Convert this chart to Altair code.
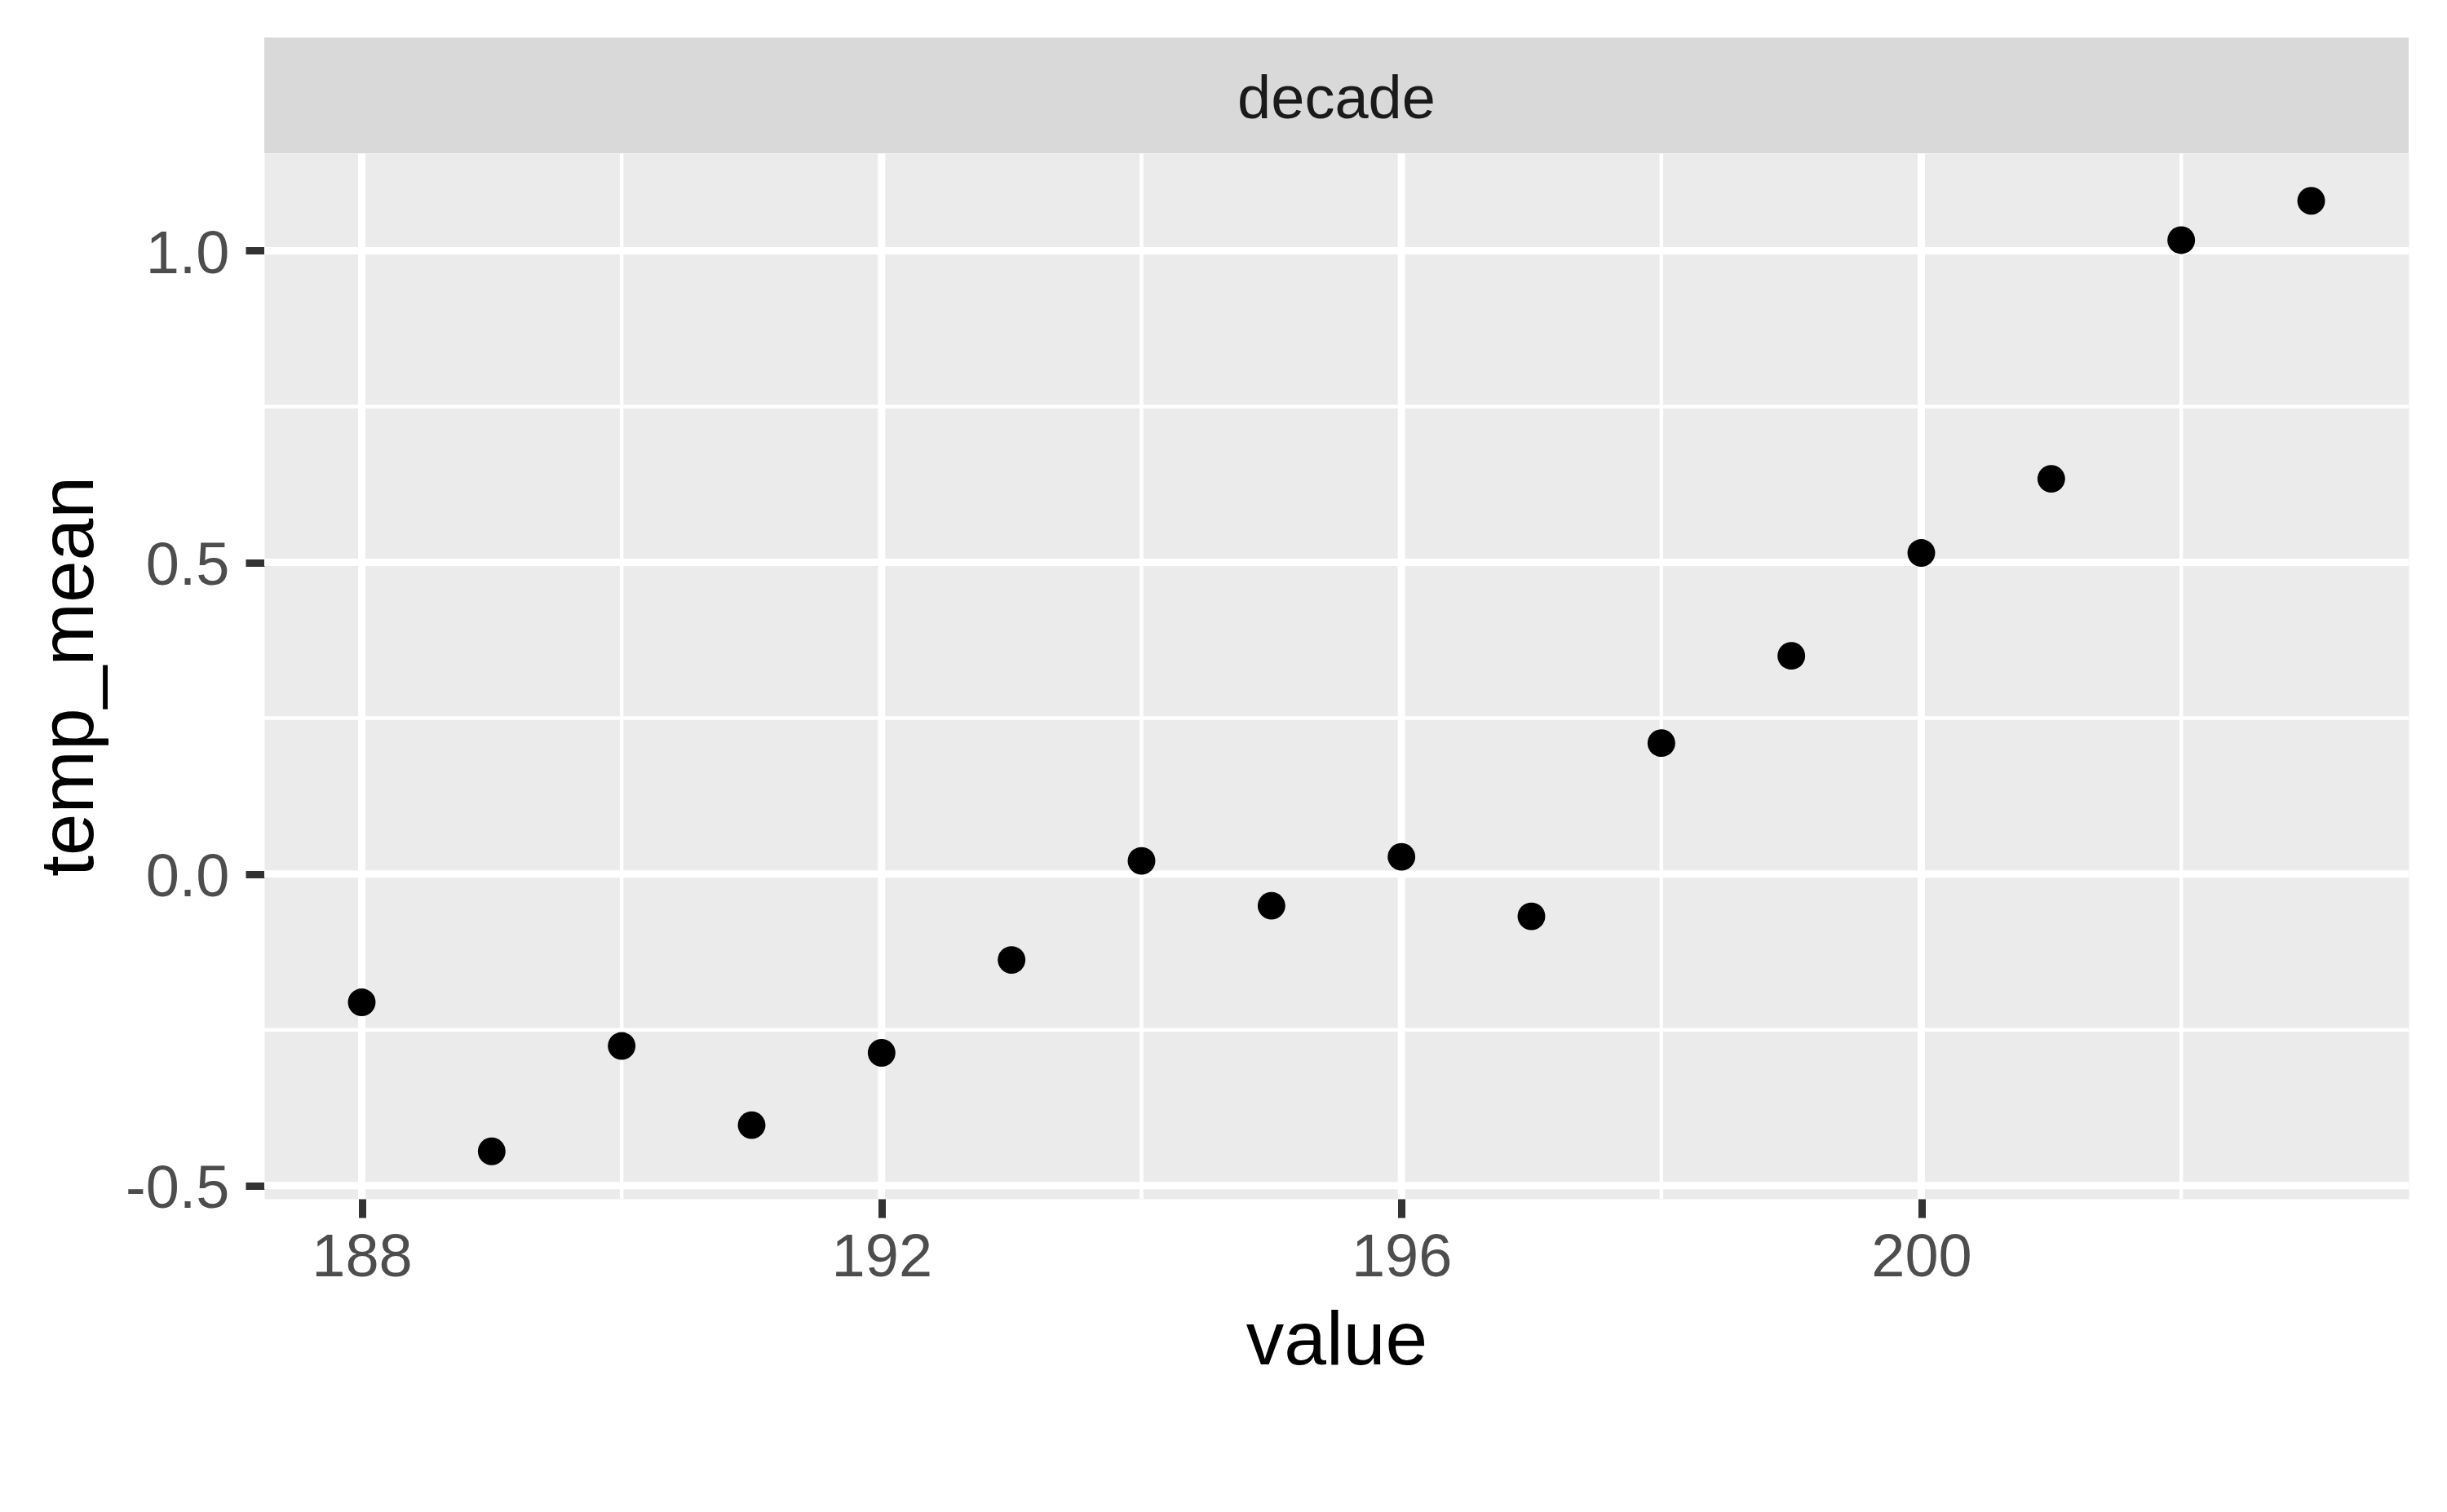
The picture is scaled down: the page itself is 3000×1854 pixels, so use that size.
import altair as alt
import pandas as pd

# ---- data ----
decade = [188, 189, 190, 191, 192, 193, 194, 195, 196, 197, 198, 199, 200, 201, 202, 203]
temp_mean = [-0.206, -0.445, -0.276, -0.403, -0.287, -0.138, 0.021, -0.051,
             0.0275, -0.068, 0.210, 0.350, 0.515, 0.634, 1.017, 1.080]
strip_label = ["decade"]
x_major = [188, 192, 196, 200]
x_minor = [190, 194, 198, 202]
y_major = [-0.5, 0.0, 0.5, 1.0]
y_minor = [-0.25, 0.25, 0.75]

# ---- layout ----
W, H = 2629, 1282
STRIP = 142
FONT = "Liberation Sans"

xr = max(decade) - min(decade)
x_dom = [min(decade) - 0.05 * xr, max(decade) + 0.05 * xr]
yr = max(temp_mean) - min(temp_mean)
y_dom = [min(temp_mean) - 0.05 * yr, max(temp_mean) + 0.05 * yr]

x_scale = alt.Scale(domain=x_dom, nice=False, zero=False)
y_scale = alt.Scale(domain=y_dom, nice=False, zero=False)

y_label_expr = "datum.value < 0 ? '-' + format(-datum.value, '.1f') : format(datum.value, '.1f')"

x_axis = alt.Axis(
    values=x_major, format="d", title="value", grid=False, domain=False,
    tickColor="#333333", tickWidth=9, tickSize=23,
    labelFontSize=74, labelColor="#4D4D4D", labelFont=FONT, labelPadding=13,
    labelFlush=False, labelOverlap=False, labelBound=False,
    titleFontSize=93, titleColor="black", titleFont=FONT, titleFontWeight="normal",
    titleBaseline="alphabetic", titleAlign="center", titleX=W / 2, titleY=202,
)
y_axis = alt.Axis(
    values=y_major, labelExpr=y_label_expr, title="temp_mean", grid=False, domain=False,
    tickColor="#333333", tickWidth=9, tickSize=23,
    labelFontSize=74, labelColor="#4D4D4D", labelFont=FONT, labelPadding=20,
    labelBaseline="middle", labelOffset=5,
    labelFlush=False, labelOverlap=False, labelBound=False,
    titleFontSize=93, titleColor="black", titleFont=FONT, titleFontWeight="normal",
    titleBaseline="alphabetic", titleAlign="center", titleAngle=270,
    titleX=-211, titleY=H / 2,
)

pts = pd.DataFrame({"decade": decade, "temp_mean": temp_mean})
strip_df = pd.DataFrame({"label": strip_label})
xmaj_df = pd.DataFrame({"gx": x_major})
xmin_df = pd.DataFrame({"gx": x_minor})
ymaj_df = pd.DataFrame({"gy": y_major})
ymin_df = pd.DataFrame({"gy": y_minor})

strip_bg = alt.Chart(strip_df).mark_rect(color="#D9D9D9").encode(
    x=alt.value(0), x2=alt.value(W), y=alt.value(-STRIP), y2=alt.value(0)
)
strip_txt = alt.Chart(strip_df).mark_text(
    fontSize=74, color="#1A1A1A", font=FONT, baseline="alphabetic", align="center"
).encode(text="label:N", x=alt.value(W / 2), y=alt.value(-43))

gx_minor = alt.Chart(xmin_df).mark_rule(color="white", strokeWidth=4.5).encode(
    x=alt.X("gx:Q", scale=x_scale, axis=x_axis)
)
gy_minor = alt.Chart(ymin_df).mark_rule(color="white", strokeWidth=4.5).encode(
    y=alt.Y("gy:Q", scale=y_scale, axis=y_axis)
)
gx_major = alt.Chart(xmaj_df).mark_rule(color="white", strokeWidth=9).encode(
    x=alt.X("gx:Q", scale=x_scale, axis=x_axis)
)
gy_major = alt.Chart(ymaj_df).mark_rule(color="white", strokeWidth=9).encode(
    y=alt.Y("gy:Q", scale=y_scale, axis=y_axis)
)

points = alt.Chart(pts).mark_circle(size=1150, color="black", opacity=1).encode(
    x=alt.X("decade:Q", scale=x_scale, axis=x_axis),
    y=alt.Y("temp_mean:Q", scale=y_scale, axis=y_axis),
)

chart = alt.layer(
    strip_bg, strip_txt, gx_minor, gy_minor, gx_major, gy_major, points
).properties(
    width=W,
    height=H,
    autosize=alt.AutoSizeParams(type="none"),
    padding={"left": 316, "top": 180, "right": 39, "bottom": 376},
).configure(
    background="white", font=FONT
).configure_view(
    fill="#EBEBEB", strokeOpacity=0
)

chart.save("out.html", embed_options={"renderer": "svg", "actions": False})
